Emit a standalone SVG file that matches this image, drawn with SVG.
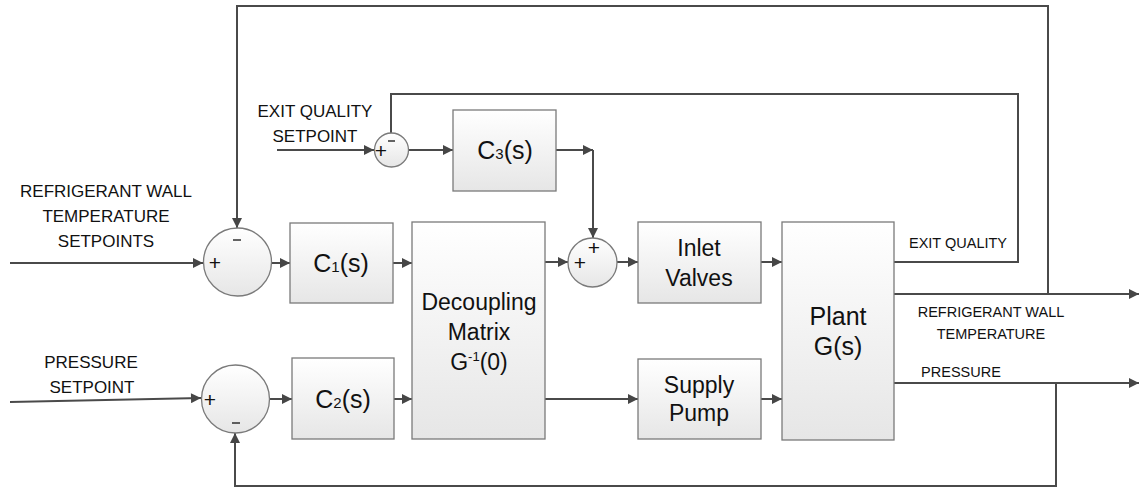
<svg xmlns="http://www.w3.org/2000/svg" width="1140" height="488" viewBox="0 0 1140 488">
<defs>
<linearGradient id="g" x1="0" y1="0" x2="0" y2="1">
<stop offset="0" stop-color="#ffffff"/>
<stop offset="1" stop-color="#e6e6e6"/>
</linearGradient>
<marker id="a" viewBox="0 0 10 10" refX="10" refY="5" markerWidth="12" markerHeight="10" markerUnits="userSpaceOnUse" orient="auto">
<path d="M0,0 L10,5 L0,10 z" fill="#464646"/>
</marker>
<style>
.b{fill:url(#g);stroke:#7a7a7a;stroke-width:1.3}
.c{fill:none;stroke:#4a4a4a;stroke-width:2}
.t{font-family:"Liberation Sans",Arial,sans-serif;fill:#111;text-anchor:middle}
.l{font-size:17px}
.s{font-size:14.5px}
.bt{font-size:23px}
.sg{font-size:21px}
.m{stroke:#111;stroke-width:1.3}
</style>
</defs>
<g id="connectors" class="c">
<path d="M1048,294 V6 H237 V228" marker-end="url(#a)"/>
<path d="M10,263 H203" marker-end="url(#a)"/>
<path d="M10,402 L201,398" marker-end="url(#a)"/>
<path d="M272,263 H290" marker-end="url(#a)"/>
<path d="M269,399 H292" marker-end="url(#a)"/>
<path d="M393,263 H412" marker-end="url(#a)"/>
<path d="M394,399 H412" marker-end="url(#a)"/>
<path d="M545,262 H568" marker-end="url(#a)"/>
<path d="M545,399 H638" marker-end="url(#a)"/>
<path d="M617,262 H638" marker-end="url(#a)"/>
<path d="M761,262 H782" marker-end="url(#a)"/>
<path d="M761,399 H782" marker-end="url(#a)"/>
<path d="M277,150 H374" marker-end="url(#a)"/>
<path d="M409,150 H453" marker-end="url(#a)"/>
<path d="M556,150 H593" marker-end="url(#a)"/>
<path d="M593,150 V238" marker-end="url(#a)"/>
<path d="M894,262 H1018 V94 H391 V133"/>
<path d="M894,294 H1139" marker-end="url(#a)"/>
<path d="M894,383 H1139" marker-end="url(#a)"/>
<path d="M1056,383 V486 H235 V433" marker-end="url(#a)"/>
</g>
<g id="sum1">
<circle class="b" cx="237.5" cy="262" r="34"/>
<text class="t sg" x="215" y="270">+</text>
<line class="m" x1="233" y1="240" x2="241" y2="240"/>
</g>
<g id="sum2">
<circle class="b" cx="235.5" cy="399" r="34"/>
<text class="t sg" x="210" y="407">+</text>
<line class="m" x1="232" y1="423" x2="240" y2="423"/>
</g>
<g id="sum3">
<circle class="b" cx="592.5" cy="262.5" r="24.5"/>
<text class="t sg" x="580" y="270">+</text>
<text class="t sg" x="594" y="255">+</text>
</g>
<g id="sum4">
<circle class="b" cx="391.5" cy="150" r="17"/>
<text class="t sg" x="381" y="158">+</text>
<line class="m" x1="388" y1="141" x2="395" y2="141"/>
</g>
<g id="c1">
<rect class="b" x="290" y="223" width="103" height="80"/>
<text class="t" style="font-size:25px" x="341" y="272">C<tspan style="font-size:15px">1</tspan>(s)</text>
</g>
<g id="c2">
<rect class="b" x="292" y="358" width="102" height="81"/>
<text class="t" style="font-size:25px" x="343" y="408">C<tspan style="font-size:15px">2</tspan>(s)</text>
</g>
<g id="c3">
<rect class="b" x="453" y="110" width="103" height="81"/>
<text class="t" style="font-size:25px" x="505" y="159">C<tspan style="font-size:15px">3</tspan>(s)</text>
</g>
<g id="decoupling">
<rect class="b" x="412" y="222" width="133" height="217"/>
<text class="t bt" x="479" y="310">Decoupling</text>
<text class="t bt" x="479" y="340">Matrix</text>
<text class="t bt" x="479" y="370">G<tspan style="font-size:13px" dy="-9">-1</tspan><tspan dy="9">(0)</tspan></text>
</g>
<g id="inlet">
<rect class="b" x="638" y="222" width="123" height="81"/>
<text class="t bt" x="699" y="256">Inlet</text>
<text class="t bt" x="699" y="286">Valves</text>
</g>
<g id="pump">
<rect class="b" x="638" y="359" width="123" height="80"/>
<text class="t bt" x="699" y="393">Supply</text>
<text class="t bt" x="699" y="421">Pump</text>
</g>
<g id="plant">
<rect class="b" x="782" y="222" width="112" height="218"/>
<text class="t" style="font-size:25px" x="838" y="325">Plant</text>
<text class="t" style="font-size:25px" x="838" y="355">G(s)</text>
</g>
<g id="labels">
<text class="t l" x="106" y="197">REFRIGERANT WALL</text>
<text class="t l" x="106" y="222">TEMPERATURE</text>
<text class="t l" x="106" y="247">SETPOINTS</text>
<text class="t l" x="315" y="117">EXIT QUALITY</text>
<text class="t l" x="315" y="142">SETPOINT</text>
<text class="t l" x="91" y="368">PRESSURE</text>
<text class="t l" x="92" y="393">SETPOINT</text>
<text class="t s" x="958" y="248">EXIT QUALITY</text>
<text class="t s" x="991" y="317">REFRIGERANT WALL</text>
<text class="t s" x="991" y="339">TEMPERATURE</text>
<text class="t s" x="961" y="377">PRESSURE</text>
</g>
</svg>
